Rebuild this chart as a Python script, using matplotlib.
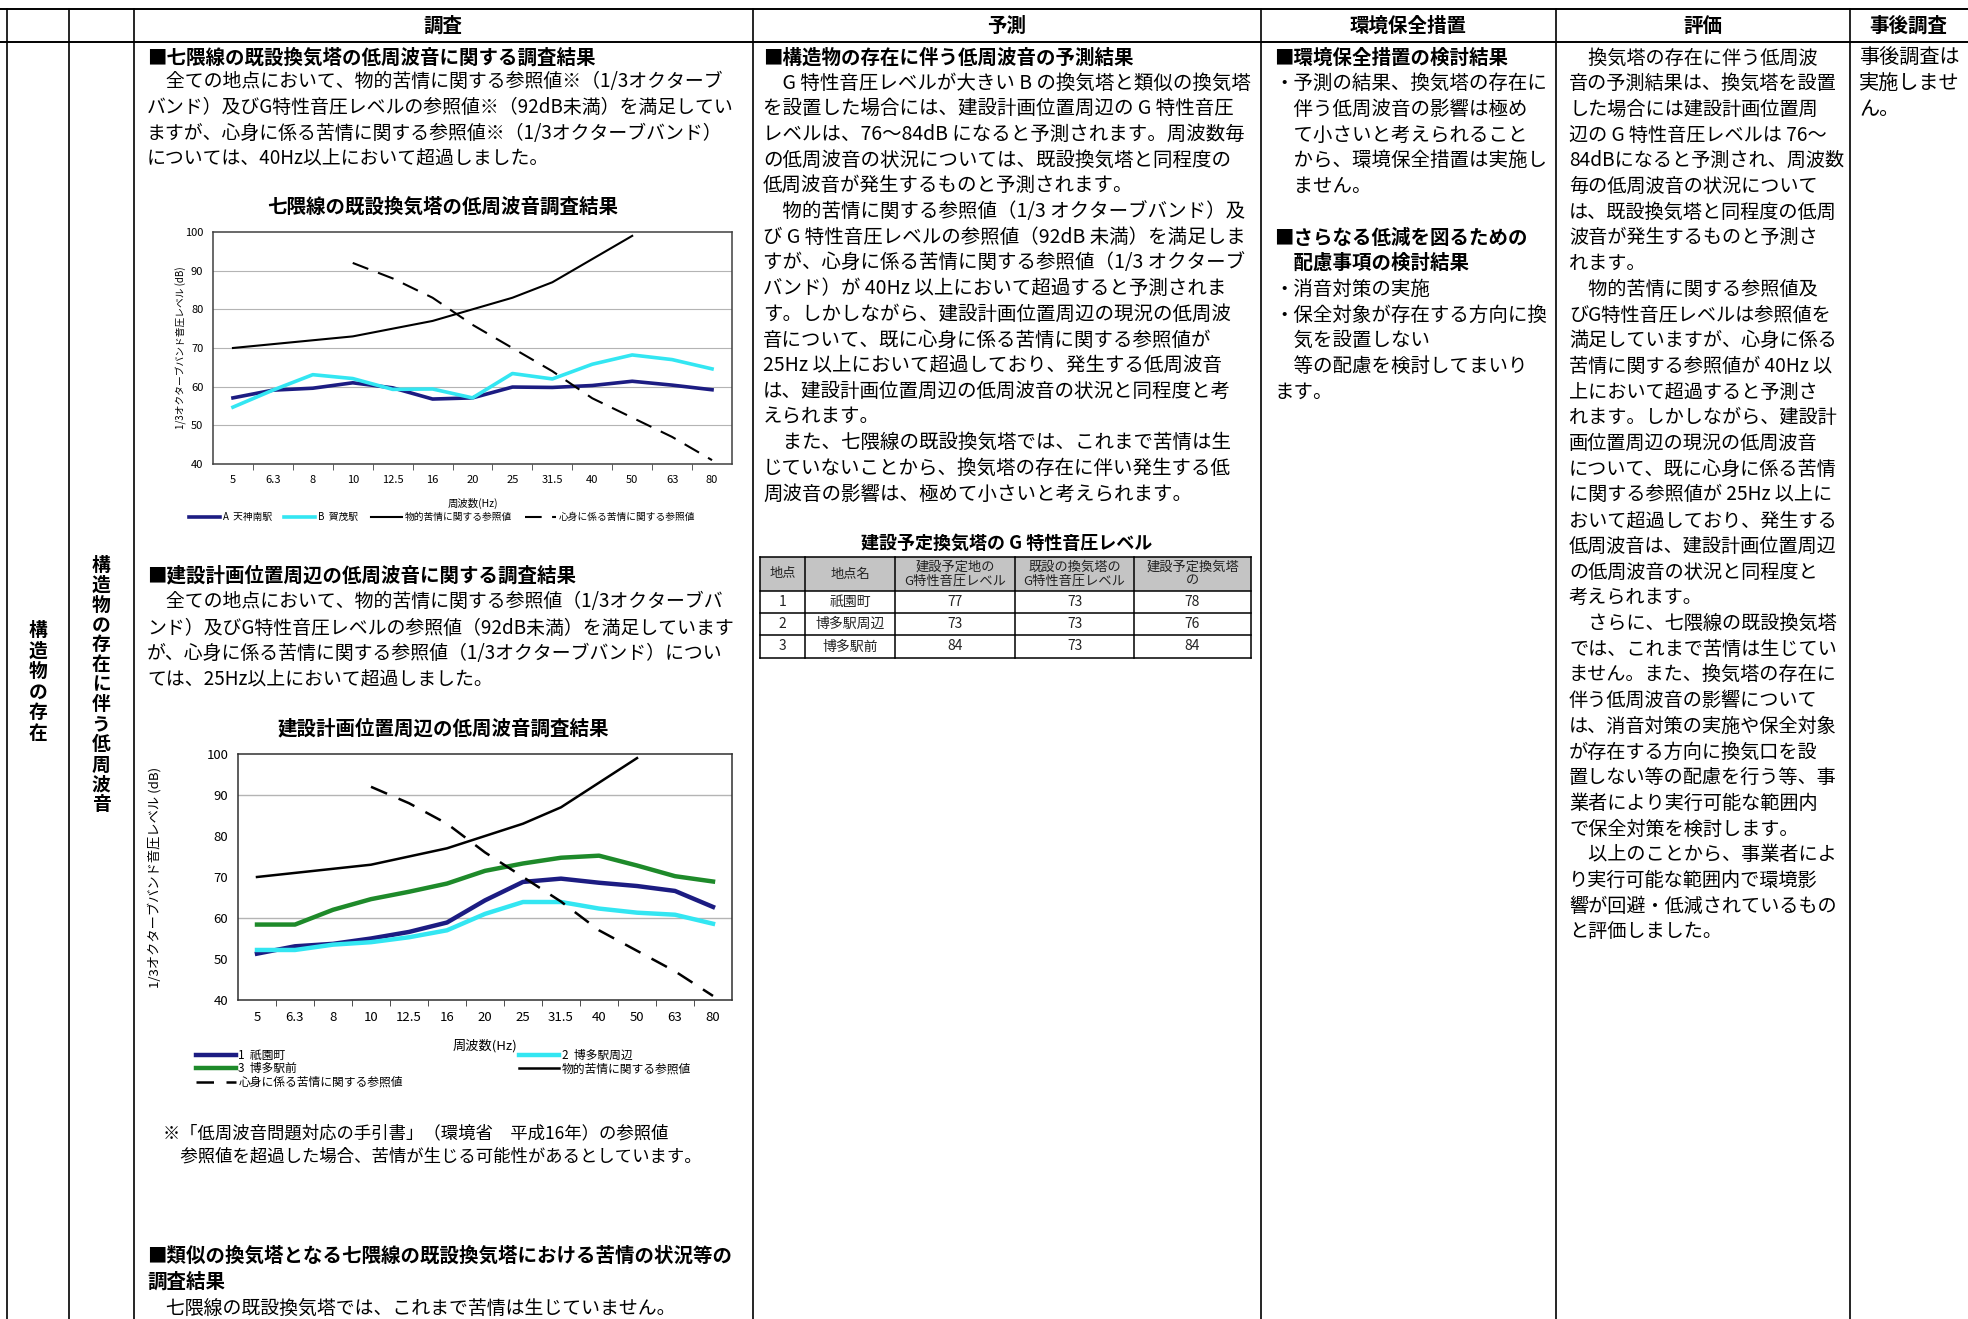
import numpy as np
import matplotlib
matplotlib.use("Agg")
import matplotlib.pyplot as plt
from matplotlib.patches import Rectangle

plt.rcParams['font.family'] = ['Noto Sans CJK JP', 'DejaVu Sans']

# ---- chart data (1/3 octave band levels, dB) ----
freq_labels = ["5", "6.3", "8", "10", "12.5", "16", "20", "25", "31.5", "40", "50", "63", "80"]
physical_ref = [70, 71, 72, 73, 75, 77, 80, 83, 87, 93, 99, np.nan, np.nan]
mental_ref = [np.nan, np.nan, np.nan, 92, 88, 83, 76, 70, 64, 57, 52, 47, 41]

# existing Nanakuma line towers
tenjin_minami = [57.1, 59.1, 59.6, 61.0, 59.7, 56.8, 57.1, 59.9, 59.8, 60.3, 61.4, 60.4, 59.2]
kamo = [54.7, 59.1, 63.1, 62.1, 59.3, 59.4, 57.1, 63.4, 62.0, 65.8, 68.2, 67.0, 64.6]

# around planned site
gion = [51.3, 53.1, 53.7, 55.0, 56.6, 58.9, 64.3, 68.8, 69.6, 68.6, 67.8, 66.6, 62.7]
hakata_area = [52.2, 52.2, 53.5, 54.1, 55.3, 57.0, 61.0, 63.9, 63.9, 62.3, 61.3, 60.8, 58.6]
hakata_front = [58.4, 58.4, 62.0, 64.6, 66.4, 68.4, 71.5, 73.3, 74.7, 75.2, 72.8, 70.2, 68.9]

# ---- table data ----
table_header = ["地点", "地点名", "建設予定地の\nG特性音圧レベル", "既設の換気塔の\nG特性音圧レベル", "建設予定換気塔\nの"]
table_no = ["1", "2", "3"]
table_name = ["祇園町", "博多駅周辺", "博多駅前"]
table_site = [77, 73, 84]
table_existing = [73, 73, 73]
table_planned = [78, 76, 84]

col_heads = ["調査", "予測", "環境保全措置", "評価", "事後調査"]

survey_h1 = "■七隈線の既設換気塔の低周波音に関する調査結果"
survey_p1 = [
    "　全ての地点において、物的苦情に関する参照値※（1/3オクターブ",
    "バンド）及びG特性音圧レベルの参照値※（92dB未満）を満足してい",
    "ますが、心身に係る苦情に関する参照値※（1/3オクターブバンド）",
    "については、40Hz以上において超過しました。",
]
survey_h2 = "■建設計画位置周辺の低周波音に関する調査結果"
survey_p2 = [
    "　全ての地点において、物的苦情に関する参照値（1/3オクターブバ",
    "ンド）及びG特性音圧レベルの参照値（92dB未満）を満足しています",
    "が、心身に係る苦情に関する参照値（1/3オクターブバンド）につい",
    "ては、25Hz以上において超過しました。",
]
survey_note = [
    "※「低周波音問題対応の手引書」（環境省　平成16年）の参照値",
    "　参照値を超過した場合、苦情が生じる可能性があるとしています。",
]
survey_h3 = [
    "■類似の換気塔となる七隈線の既設換気塔における苦情の状況等の",
    "調査結果",
]
survey_p3 = ["　七隈線の既設換気塔では、これまで苦情は生じていません。"]

predict_h = "■構造物の存在に伴う低周波音の予測結果"
predict_p = [
    "　G 特性音圧レベルが大きい B の換気塔と類似の換気塔",
    "を設置した場合には、建設計画位置周辺の G 特性音圧",
    "レベルは、76～84dB になると予測されます。周波数毎",
    "の低周波音の状況については、既設換気塔と同程度の",
    "低周波音が発生するものと予測されます。",
    "　物的苦情に関する参照値（1/3 オクターブバンド）及",
    "び G 特性音圧レベルの参照値（92dB 未満）を満足しま",
    "すが、心身に係る苦情に関する参照値（1/3 オクターブ",
    "バンド）が 40Hz 以上において超過すると予測されま",
    "す。しかしながら、建設計画位置周辺の現況の低周波",
    "音について、既に心身に係る苦情に関する参照値が",
    "25Hz 以上において超過しており、発生する低周波音",
    "は、建設計画位置周辺の低周波音の状況と同程度と考",
    "えられます。",
    "　また、七隈線の既設換気塔では、これまで苦情は生",
    "じていないことから、換気塔の存在に伴い発生する低",
    "周波音の影響は、極めて小さいと考えられます。",
]
table_title = "建設予定換気塔の G 特性音圧レベル"

measure_lines = [
    ("■環境保全措置の検討結果", True),
    ("・予測の結果、換気塔の存在に", False),
    ("　伴う低周波音の影響は極め", False),
    ("　て小さいと考えられること", False),
    ("　から、環境保全措置は実施し", False),
    ("　ません。", False),
    ("", False),
    ("■さらなる低減を図るための", True),
    ("　配慮事項の検討結果", True),
    ("・消音対策の実施", False),
    ("・保全対象が存在する方向に換", False),
    ("　気を設置しない", False),
    ("　等の配慮を検討してまいり", False),
    ("ます。", False),
]

eval_lines = [
    "　換気塔の存在に伴う低周波",
    "音の予測結果は、換気塔を設置",
    "した場合には建設計画位置周",
    "辺の G 特性音圧レベルは 76～",
    "84dBになると予測され、周波数",
    "毎の低周波音の状況について",
    "は、既設換気塔と同程度の低周",
    "波音が発生するものと予測さ",
    "れます。",
    "　物的苦情に関する参照値及",
    "びG特性音圧レベルは参照値を",
    "満足していますが、心身に係る",
    "苦情に関する参照値が 40Hz 以",
    "上において超過すると予測さ",
    "れます。しかしながら、建設計",
    "画位置周辺の現況の低周波音",
    "について、既に心身に係る苦情",
    "に関する参照値が 25Hz 以上に",
    "おいて超過しており、発生する",
    "低周波音は、建設計画位置周辺",
    "の低周波音の状況と同程度と",
    "考えられます。",
    "　さらに、七隈線の既設換気塔",
    "では、これまで苦情は生じてい",
    "ません。また、換気塔の存在に",
    "伴う低周波音の影響について",
    "は、消音対策の実施や保全対象",
    "が存在する方向に換気口を設",
    "置しない等の配慮を行う等、事",
    "業者により実行可能な範囲内",
    "で保全対策を検討します。",
    "　以上のことから、事業者によ",
    "り実行可能な範囲内で環境影",
    "響が回避・低減されているもの",
    "と評価しました。",
]
after_lines = ["事後調査は", "実施しませ", "ん。"]

side_label1 = "構造物の存在"
side_label2 = "構造物の存在に伴う低周波音"

W, H = 1968, 1319
fig = plt.figure(figsize=(W / 100, H / 100), dpi=100)
bg = fig.add_axes([0, 0, 1, 1])
bg.set_xlim(0, W)
bg.set_ylim(H, 0)
bg.axis("off")

STEP = 25.7


def put_lines(x, y0, lines, size=14, weight="normal", step=STEP):
    for i, s in enumerate(lines):
        bg.text(x, y0 + i * step, s, fontsize=size, fontweight=weight, ha="left", va="center")


# ---- table grid ----
vlines = [7, 69, 134, 753, 1261, 1556, 1850]
bg.plot([0, W], [9, 9], color="black", lw=1.4)
bg.plot([0, W], [42, 42], color="black", lw=1.4)
for vx in vlines:
    bg.plot([vx, vx], [9, H], color="black", lw=1.2)

head_x = [443, 1007, 1408, 1703, 1908]
for hx, t in zip(head_x, col_heads):
    bg.text(hx, 26, t, fontsize=14, fontweight="bold", ha="center", va="center")

for i, ch in enumerate(side_label1):
    bg.text(38, 682 + (i - (len(side_label1) - 1) / 2) * 20.5, ch, fontsize=13.5,
            fontweight="bold", ha="center", va="center")
for i, ch in enumerate(side_label2):
    bg.text(101, 685 + (i - (len(side_label2) - 1) / 2) * 20, ch, fontsize=13.5,
            fontweight="bold", ha="center", va="center")

# ---- survey column ----
put_lines(147, 58, [survey_h1], weight="bold")
put_lines(147, 81, survey_p1, size=13.6, step=26)
bg.text(443, 207, "七隈線の既設換気塔の低周波音調査結果", fontsize=14, fontweight="bold",
        ha="center", va="center")
put_lines(147, 576, [survey_h2], weight="bold")
put_lines(147, 602, survey_p2, size=13.6, step=26)
bg.text(443, 729, "建設計画位置周辺の低周波音調査結果", fontsize=14, fontweight="bold",
        ha="center", va="center")
put_lines(163, 1133, survey_note, size=12.5, step=24)
put_lines(147, 1256, survey_h3, weight="bold", step=26)
put_lines(147, 1308, survey_p3, size=13.6)

# ---- prediction column ----
put_lines(763, 58, [predict_h], weight="bold")
put_lines(763, 83, predict_p, size=14)
bg.text(1007, 543, table_title, fontsize=13, fontweight="bold", ha="center", va="center")

tcols = [760, 805, 895, 1015, 1134, 1251]
trows = [557, 591, 613, 635, 658]
bg.add_patch(Rectangle((tcols[0], trows[0]), tcols[-1] - tcols[0], trows[1] - trows[0],
                       facecolor="#c4c4c4", edgecolor="none"))
for ty in trows:
    bg.plot([tcols[0], tcols[-1]], [ty, ty], color="black", lw=1.1)
for tx in tcols:
    bg.plot([tx, tx], [trows[0], trows[-1]], color="black", lw=1.1)
for j, t in enumerate(table_header):
    cx = (tcols[j] + tcols[j + 1]) / 2
    bg.text(cx, (trows[0] + trows[1]) / 2, t, fontsize=9.5, ha="center", va="center",
            linespacing=1.05, color="#222222")
for i in range(len(table_no)):
    cy = (trows[i + 1] + trows[i + 2]) / 2
    vals = [table_no[i], table_name[i], str(table_site[i]), str(table_existing[i]), str(table_planned[i])]
    for j, v in enumerate(vals):
        cx = (tcols[j] + tcols[j + 1]) / 2
        bg.text(cx, cy, v, fontsize=10, ha="center", va="center", color="#222222")

# ---- measures column ----
for i, (s, b) in enumerate(measure_lines):
    bg.text(1274, 58 + i * STEP, s, fontsize=14, fontweight="bold" if b else "normal",
            ha="left", va="center")

# ---- evaluation column ----
put_lines(1569, 58, eval_lines, size=13.8)
put_lines(1859, 58, after_lines, size=14.5)

# ---- charts ----
x = np.arange(len(freq_labels))
NAVY = "#1c1c82"
CYAN = "#33e6f2"
GREEN = "#1e8a2a"


def chart_axes(l, t, r, b):
    return fig.add_axes([l / W, 1 - b / H, (r - l) / W, (b - t) / H])


def style_axes(ax, tsize, spine_c, ypad):
    ax.set_xlim(-0.5, len(freq_labels) - 0.5)
    ax.set_ylim(40, 100)
    ax.set_yticks(range(40, 101, 10))
    ax.set_xticks(x)
    ax.set_xticklabels(freq_labels)
    ax.set_xticks(x[:-1] + 0.5, minor=True)
    ax.tick_params(axis="x", which="major", length=0, pad=8, labelsize=tsize)
    ax.tick_params(axis="x", which="minor", length=4, direction="out", color=spine_c)
    ax.tick_params(axis="y", length=0, pad=ypad, labelsize=tsize)
    for sp in ax.spines.values():
        sp.set_color(spine_c)
        sp.set_linewidth(1.1)


# chart 1
ax1 = chart_axes(213, 232, 732, 464)
style_axes(ax1, 8, "#404040", 7)
for gy in range(50, 100, 10):
    ax1.axhline(gy, color="#b4b4b4", lw=0.8, zorder=0)
l1, = ax1.plot(x, tenjin_minami, color=NAVY, lw=2.6)
l2, = ax1.plot(x, kamo, color=CYAN, lw=2.6)
l3, = ax1.plot(x, physical_ref, color="black", lw=1.5)
l4, = ax1.plot(x, mental_ref, color="black", lw=1.5, dashes=(8, 5))
ax1.set_xlabel("周波数(Hz)", fontsize=7.5)
ax1.xaxis.set_label_coords(0.5, -0.145)
ax1.set_ylabel("1/3オクターブバンド音圧レベル (dB)", fontsize=7)
ax1.yaxis.set_label_coords(-0.05, 0.5)
ax1.legend([l1, l2, l3, l4], ["A  天神南駅", "B  賀茂駅", "物的苦情に関する参照値", "心身に係る苦情に関する参照値"],
           loc="center", bbox_to_anchor=(442 / W, 1 - 517 / H), bbox_transform=fig.transFigure,
           ncol=4, frameon=False, fontsize=7, handlelength=3.2, columnspacing=1.3,
           handletextpad=0.3)

# chart 2
ax2 = chart_axes(238, 754, 732, 1000)
style_axes(ax2, 9.5, "#303030", 7)
for gy in (60, 90):
    ax2.axhline(gy, color="#b4b4b4", lw=1.0, zorder=0)
m1, = ax2.plot(x, gion, color=NAVY, lw=3.2)
m2, = ax2.plot(x, hakata_area, color=CYAN, lw=3.2)
m3, = ax2.plot(x, hakata_front, color=GREEN, lw=3.2)
m4, = ax2.plot(x, physical_ref, color="black", lw=1.8)
m5, = ax2.plot(x, mental_ref, color="black", lw=1.8, dashes=(7, 5))
ax2.set_xlabel("周波数(Hz)", fontsize=9.5)
ax2.xaxis.set_label_coords(0.5, -0.158)
ax2.set_ylabel("1/3オクターブバンド音圧レベル (dB)", fontsize=9.5)
ax2.yaxis.set_label_coords(-0.155, 0.5)
ax2.legend([m1, m3, m5, m2, m4],
           ["1  祇園町", "3  博多駅前", "心身に係る苦情に関する参照値", "2  博多駅周辺", "物的苦情に関する参照値"],
           loc="upper left", bbox_to_anchor=(196 / W, 1 - 1050 / H, 495 / W, 0.001),
           bbox_transform=fig.transFigure, mode="expand", ncol=2, frameon=False,
           fontsize=8.5, handlelength=3.4, handletextpad=0.2, labelspacing=0.05,
           borderpad=0, borderaxespad=0)

fig.savefig("out.png", dpi=100)
